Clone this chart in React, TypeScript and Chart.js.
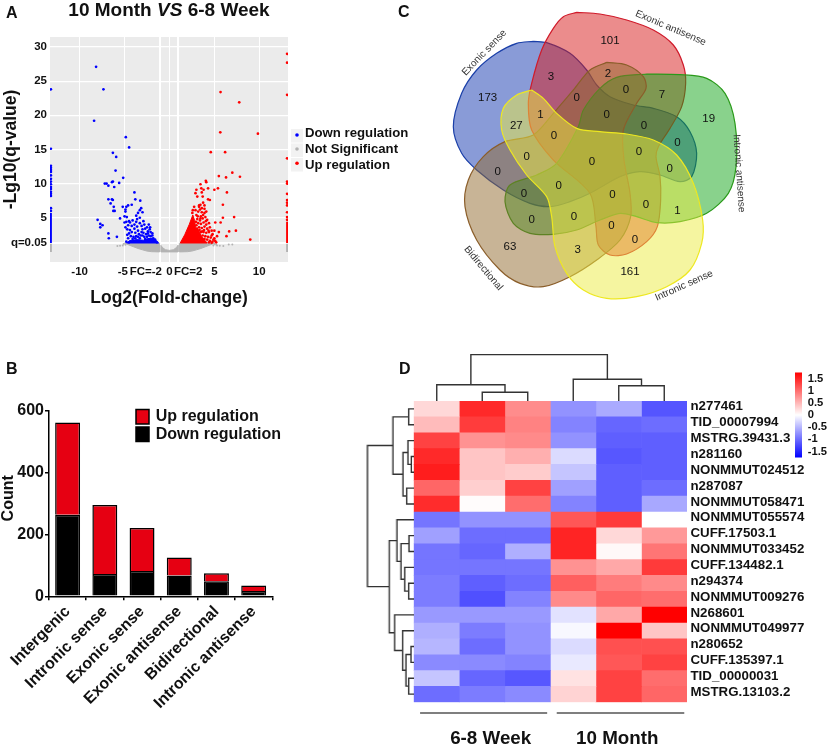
import React, { useEffect, useRef } from "react";
import { Chart, registerables } from "chart.js";
Chart.register(...registerables);

const FONT = '"Liberation Sans", Arial, sans-serif';

// ---------- Panel A : volcano ----------
const volcanoXTicks = [-10, -5.2, -2.63, 0, 2.09, 5, 10];
const volcanoXLabels = ["-10", "-5", "FC=-2", "0", "FC=2", "5", "10"];
const volcanoXGrid = [-10, -5, -1, 0, 1, 5, 10];
const volcanoYTicks = [1.3, 5, 10, 15, 20, 25, 30];
const volcanoYLabels = ["q=0.05", "5", "10", "15", "20", "25", "30"];
const downOutliers = [
  [-8.17, 27.1], [-7.35, 23.8], [-8.39, 19.2], [-4.86, 16.8], [-4.49, 15.3], [-6.3, 14.5], [-5.93, 13.9], [-6.0, 11.9],
  [-5.15, 10.85], [-6.3, 10.3], [-6.4, 10.2], [-5.6, 10.1], [-7.2, 10], [-7.0, 10], [-6.8, 9.7], [-6.15, 9.5], [-3.9, 8.7],
  [-3.8, 7.7], [-6.8, 7.7], [-6.4, 7.7], [-6.3, 7.6], [-4.2, 6.9], [-4.6, 6.8], [-3.25, 7.5], [-6.55, 7.1], [-5.2, 6.6],
  [-4.8, 6.6], [-6.2, 6.6], [-6.25, 6], [-6.1, 6], [-4.9, 6.2], [-4.9, 5.9], [-3.15, 6.4], [-3.3, 6.1], [-3.5, 5.7],
  [-3.7, 5.3], [-3.0, 5.8], [-8, 4.7], [-7.7, 4.1], [-7.45, 3.9], [-7.7, 3.6], [-5.5, 4.9], [-5.0, 5.2], [-4.75, 5.1],
  [-5, 4.3], [-4.5, 4.5], [-6.8, 2.7], [-6.75, 2.0], [-5.85, 2.2],
];
const downCluster = [
  [-4.8, 4.4], [-4.6, 3.9], [-4.7, 3.3], [-4.9, 3.6], [-4.4, 4.3], [-4.2, 3.8], [-4.4, 3.2], [-4.1, 4.6], [-3.9, 4.0], [-3.7, 4.4],
  [-3.9, 3.4], [-3.6, 3.7], [-4.2, 2.9], [-4.5, 2.7], [-4.7, 2.5], [-3.8, 2.8], [-3.5, 3.1], [-3.3, 4.2], [-3.1, 3.8], [-3.4, 2.6],
  [-3.0, 3.3], [-2.8, 4.0], [-2.7, 3.4], [-2.9, 2.8], [-3.2, 2.4], [-2.5, 3.6], [-2.4, 3.0], [-2.6, 2.6], [-2.2, 3.3], [-2.1, 2.9],
  [-2.3, 2.4], [-2.3, 4.0], [-3.6, 4.8], [-3.3, 5.0], [-2.9, 4.5], [-4.3, 2.3], [-4.0, 2.2], [-3.7, 2.3], [-3.5, 2.2], [-3.0, 2.4],
  [-2.8, 2.2], [-2.5, 2.2], [-2.1, 2.3], [-1.9, 2.4], [-1.8, 2.0], [-4.6, 2.0], [-4.1, 1.9], [-3.3, 2.0], [-2.7, 1.9], [-1.6, 1.8],
  [-1.5, 1.5], [-1.4, 1.4], [-4.8, 1.5], [-4.5, 1.4], [-2.0, 1.8], [-2.4, 2.7], [-3.1, 2.9], [-3.8, 2.0], [-1.9, 2.7], [-2.15, 3.6],
];
const downDensePolygon = [
  [-4.75, 1.3], [-4.45, 1.65], [-3.6, 1.8], [-2.9, 1.7], [-2.4, 1.95], [-1.9, 2.0], [-1.55, 1.7], [-1.2, 1.3], [-4.75, 1.3],
];
const downEdgeDots = [23.8, 15.1, 12.6, 12.3, 12, 11.7, 11.2, 10.7, 10.3, 9.9, 9.5, 9.2, 8.8, 8.5, 8.2, 6.4, 6.0];
const downEdgeSpan = [1.3, 5.7];
const edgeLeftX = -13.2;
const edgeRightX = 13.1;
const upEdgeDots = [29, 27.7, 23, 13.7, 10.3, 10, 8.5, 7.6, 7.2, 6.8, 5.8, 5.1, 4.7];
const upEdgeSpan = [1.3, 4.4];
const greyEdgeSpan = [0, 1.2];
const upOutliers = [
  [5.69, 23.4], [7.77, 21.9], [5.66, 17.5], [9.85, 17.3], [4.6, 14.6], [6.2, 14.6], [7.0, 11.6], [5.5, 11.1], [6.3, 10.9], [7.85, 11],
  [4.05, 10.4], [4.1, 10.2], [3.45, 9.9], [3.0, 9.1], [3.55, 9.3], [2.9, 8.6], [3.6, 8.7], [3.8, 9.1], [4.3, 9.3], [5.0, 9.1],
  [5.4, 9.3], [6.4, 8.7], [3.1, 8.1], [3.7, 8.1], [4.3, 7.7], [4.5, 7.6], [3.75, 7.2], [5.95, 6.9], [3.45, 6.9], [3.9, 6.8],
  [2.75, 6.6], [3.3, 6.6], [5.95, 5.0], [7.2, 5.1], [6.65, 3.0], [7.4, 3.1], [6.35, 2.3], [9.0, 1.8], [5.7, 4.3], [5.1, 4.3],
  [5.0, 3.1], [5.5, 2.9], [4.8, 2.6], [5.3, 2.3],
];
const upCluster = [
  [3.0, 5.4], [3.2, 5.9], [3.4, 6.2], [3.6, 5.8], [3.9, 5.7], [4.1, 5.9], [3.5, 5.2], [3.1, 4.8], [3.4, 4.6], [3.7, 4.9],
  [4.0, 5.1], [4.2, 4.7], [3.2, 4.2], [3.5, 4.1], [3.8, 4.3], [4.1, 4.0], [4.4, 4.2], [3.0, 3.9], [3.3, 3.6], [3.6, 3.5],
  [3.9, 3.7], [4.2, 3.4], [4.5, 3.6], [4.7, 3.1], [3.2, 3.1], [3.5, 2.9], [3.8, 2.9], [4.1, 2.8], [4.4, 2.9], [4.7, 2.4],
  [5.0, 2.0], [3.7, 2.4], [4.0, 2.3], [4.3, 2.2], [4.6, 2.1], [4.9, 1.8], [5.1, 1.6], [3.9, 1.9], [4.2, 1.8], [4.5, 1.6],
  [4.8, 1.5], [5.2, 1.4], [4.4, 1.4], [4.7, 1.35], [2.9, 6.1], [3.3, 6.8], [3.9, 6.3], [2.6, 6.1], [2.55, 5.7], [3.6, 6.4],
  [2.95, 4.4], [3.15, 5.2], [3.75, 5.4], [4.05, 4.5], [3.35, 3.2], [4.35, 3.1], [3.65, 3.0], [3.05, 3.4], [3.85, 3.2], [3.45, 4.9],
];
const upDensePolygon = [
  [1.2, 1.3], [1.7, 2.5], [2.2, 4.0], [2.6, 5.4], [2.8, 4.6], [2.9, 3.6], [3.3, 3.0], [3.6, 2.2], [4.2, 1.3], [1.2, 1.3],
];
const greyPolygonLeft = [
  [-5.0, 1.27], [-4.5, 1.0], [-4.0, 0.75], [-3.5, 0.5], [-3.0, 0.3], [-2.5, 0.12], [-2.0, 0.03], [-1.1, 0], [-1.1, 1.27], [-5.0, 1.27],
];
const greyPolygonRight = [
  [5.0, 1.27], [4.5, 1.0], [4.0, 0.75], [3.5, 0.5], [3.0, 0.3], [2.5, 0.12], [2.0, 0.03], [1.1, 0], [1.1, 1.27], [5.0, 1.27],
];
const greyPolygonCentre = [
  [-0.95, 0], [-0.95, 0.95], [-0.75, 0.6], [-0.45, 0.32], [0, 0.22], [0.45, 0.32], [0.75, 0.6], [0.95, 0.95], [0.95, 0], [-0.95, 0],
];
const greyPoints = [
  [-5.8, 0.85], [-5.5, 0.9], [-5.2, 0.95], [-4.9, 1.05], [-5.1, 1.15], [5.2, 1.1], [5.6, 0.9], [6.0, 0.85], [6.6, 1.1], [5.3, 0.95],
  [4.9, 0.95], [5.0, 1.15], [7.0, 1.1],
];

// ---------- Panel B : stacked bars ----------
const barCategories = ["Intergenic", "Intronic sense", "Exonic sense", "Exonic antisense", "Bidirectional", "Intronic antisense"];
const downCounts = [264, 72, 82, 67, 49, 17];
const upCounts = [299, 224, 139, 59, 26, 18];

// ---------- Panel C : five-set Venn ----------
const petalNames = ["Exonic sense", "Exonic antisense", "Intronic antisense", "Bidirectional", "Intronic sense"];
const petalFills = ["rgba(19,55,175,0.5)", "rgba(215,25,25,0.5)", "rgba(19,165,25,0.5)", "rgba(145,105,45,0.5)", "rgba(235,235,65,0.5)"];
const petalStrokes = ["#1A3FA8", "#D01A2A", "#2A9A1A", "#8B5E2A", "#EEE820"];
const bluePetal = [
  [340, 124], [380, 128], [450, 160], [500, 210], [530, 255], [570, 290], [640, 315], [700, 325], [770, 350], [810, 395], [830, 460],
  [815, 530], [780, 545], [720, 525], [660, 515], [600, 530], [510, 580], [450, 605], [390, 620], [330, 610], [250, 570], [170, 510],
  [125, 460], [100, 380], [125, 280], [170, 210], [230, 160], [290, 130], [340, 124],
];
const redPetal = [
  [470, 37], [540, 42], [620, 60], [700, 90], [760, 135], [790, 195], [797, 250], [785, 320], [750, 385], [715, 440], [708, 470],
  [720, 530], [722, 600], [712, 680], [680, 725], [620, 762], [570, 765], [535, 735], [528, 680], [510, 580], [400, 480], [335, 390],
  [325, 310], [335, 250], [365, 150], [400, 85], [430, 50], [470, 37],
];
const greenPetal = [
  [680, 222], [780, 224], [860, 235], [915, 280], [945, 370], [948, 500], [925, 580], [860, 640], [780, 665], [710, 668], [650, 650],
  [600, 640], [540, 660], [470, 690], [400, 703], [330, 700], [280, 670], [255, 605], [270, 555], [350, 525], [410, 490], [475, 380],
  [490, 330], [540, 265], [590, 232], [680, 222],
];
const brownPetal = [
  [560, 187], [620, 195], [670, 230], [678, 265], [650, 310], [610, 390], [612, 480], [630, 580], [632, 650], [600, 720], [530, 780],
  [450, 830], [370, 860], [300, 850], [240, 810], [170, 720], [135, 620], [145, 540], [190, 470], [255, 425], [340, 405], [400, 340],
  [460, 270], [510, 210], [560, 187],
];
const yellowPetal = [
  [335, 270], [370, 295], [410, 340], [470, 385], [540, 395], [620, 402], [700, 420], [770, 465], [820, 550], [848, 660], [845, 730],
  [810, 810], [740, 860], [650, 890], [560, 895], [490, 870], [440, 820], [405, 740], [395, 650], [380, 590], [320, 525], [270, 450],
  [245, 390], [250, 325], [290, 285], [335, 270],
];
const vennCounts = ["101", "3", "2", "173", "0", "0", "7", "19", "27", "1", "0", "0", "0", "0", "0", "0", "0", "0", "0", "0", "0", "0", "0", "1", "0", "0", "0", "0", "63", "3", "161"];
const vennCountX = [570, 393, 564, 203, 470, 618, 726, 866, 289, 361, 560, 672, 402, 772, 320, 516, 657, 233, 749, 416, 312, 577, 678, 772, 335, 462, 574, 645, 270, 473, 630];
const vennCountY = [122, 230, 220, 292, 293, 270, 284, 357, 376, 343, 343, 376, 408, 428, 470, 484, 456, 514, 507, 558, 581, 583, 614, 632, 659, 651, 678, 719, 740, 750, 814];
const petalLabelX = [193, 752, 957, 190, 792];
const petalLabelY = [158, 84, 520, 805, 857];
const petalLabelAngle = [-46, 23, 86, 50, -24];

// ---------- Panel D : heat map ----------
const heatRows = [
  "n277461", "TID_00007994", "MSTRG.39431.3", "n281160", "NONMMUT024512", "n287087", "NONMMUT058471", "NONMMUT055574", "CUFF.17503.1",
  "NONMMUT033452", "CUFF.134482.1", "n294374", "NONMMUT009276", "N268601", "NONMMUT049977", "n280652", "CUFF.135397.1", "TID_00000031", "MSTRG.13103.2",
];
const heatValues = [
  [0.27, 1.47, 0.79, -0.75, -0.58, -1.17],
  [0.47, 1.34, 0.86, -0.85, -1.05, -1.0],
  [1.3, 0.75, 0.8, -0.75, -1.1, -1.1],
  [1.47, 0.4, 0.55, -0.25, -1.15, -1.1],
  [1.55, 0.4, 0.35, -0.4, -1.1, -1.1],
  [1.05, 0.33, 1.3, -0.65, -1.1, -1.0],
  [1.45, 0.02, 1.0, -0.85, -1.1, -0.6],
  [-0.95, -0.75, -0.75, 1.15, 1.35, 0.0],
  [-0.65, -1.0, -1.0, 1.5, 0.27, 0.7],
  [-0.95, -1.05, -0.55, 1.5, 0.05, 0.95],
  [-0.95, -0.95, -0.95, 0.75, 0.6, 1.35],
  [-0.9, -1.1, -1.0, 1.1, 0.9, 0.8],
  [-0.9, -1.2, -0.85, 0.8, 1.05, 1.0],
  [-0.7, -0.7, -0.7, -0.2, 0.6, 1.75],
  [-0.55, -0.9, -0.75, -0.05, 1.75, 0.4],
  [-0.5, -1.0, -0.75, -0.25, 1.2, 1.2],
  [-0.8, -0.8, -0.85, -0.15, 1.15, 1.3],
  [-0.4, -1.05, -1.15, 0.2, 1.3, 1.0],
  [-1.0, -0.9, -0.8, 0.3, 1.3, 1.05],
];
const heatGroupTicks = [1.69, 4.47];
const heatGroupLabels = ["6-8 Week", "10 Month"];
const heatGroupSpans = [[0.14, 2.93], [3.14, 5.94]];
const colorBarTicks = [1.5, 1, 0.5, 0, -0.5, -1, -1.5];
const colorLimit = 1.75;
// merges: [child a, child b, height]; ids beyond the leaves are earlier merges in order
const topMerges = [[1, 2, 0.19], [0, 6, 0.35], [4, 5, 0.33], [3, 8, 0.47], [7, 9, 1]];
const leftMerges = [
  [0, 1, 0.115], [3, 4, 0.058], [2, 20, 0.13], [5, 6, 0.158], [21, 22, 0.237], [19, 23, 0.453],
  [8, 9, 0.108], [11, 12, 0.115], [10, 26, 0.2], [25, 27, 0.28], [7, 28, 0.367],
  [15, 16, 0.065], [17, 18, 0.115], [30, 31, 0.173], [14, 32, 0.245], [13, 33, 0.417], [29, 34, 0.532], [24, 35, 1],
];

const toXY = (pairs: number[][]) => pairs.map(([x, y]) => ({ x, y }));

function heatColor(v: number) {
  const t = Math.min(Math.abs(v) / colorLimit, 1);
  const c = Math.round(255 * (1 - t));
  return v >= 0 ? `rgb(255,${c},${c})` : `rgb(${c},${c},255)`;
}

function mergeSegments(merges: number[][], leaves: number) {
  const pos: number[] = [];
  const hgt: number[] = [];
  for (let i = 0; i < leaves; i++) {
    pos.push(i + 0.5);
    hgt.push(0);
  }
  return merges.map(([a, b, h]) => {
    const seg = [[pos[a], hgt[a]], [pos[a], h], [pos[b], h], [pos[b], hgt[b]]];
    pos.push((pos[a] + pos[b]) / 2);
    hgt.push(h);
    return seg;
  });
}

function text(ctx: any, s: string, x: number, y: number, font: string, color: string, angle = 0, align = "center") {
  ctx.save();
  ctx.translate(x, y);
  ctx.rotate((angle * Math.PI) / 180);
  ctx.font = font;
  ctx.fillStyle = color;
  ctx.textAlign = align;
  ctx.textBaseline = "middle";
  ctx.fillText(s, 0, 0);
  ctx.restore();
}

const base = { responsive: false, animation: false, events: [] as string[], plugins: { legend: { display: false }, tooltip: { enabled: false } } };

function fixedSize(w: number) {
  return (s: any) => { s.width = w; };
}
function fixedHeight(h: number) {
  return (s: any) => { s.height = h; };
}

function volcanoConfig() {
  const dots = (data: number[][], color: string, r = 1.35) => ({ type: "scatter", data: toXY(data), backgroundColor: color, borderWidth: 0, pointRadius: r, showLine: false });
  const poly = (data: number[][], color: string) => ({ type: "scatter", data: toXY(data), showLine: true, fill: "shape", backgroundColor: color, borderColor: color, borderWidth: 1, pointRadius: 0, tension: 0 });
  const span = (x: number, s: number[], color: string) => ({ type: "scatter", data: [{ x, y: s[0] }, { x, y: s[1] }], showLine: true, borderColor: color, borderWidth: 2, pointRadius: 0 });
  const legendRows = [["Down regulation", "#0000FF", 135, 133.5], ["Not Significant", "#B3B3B3", 149, 149.5], ["Up regulation", "#FF0000", 163.3, 165]];
  return {
    type: "scatter",
    data: {
      datasets: [
        dots(upOutliers, "#FF0000"), dots(upCluster, "#FF0000"), poly(upDensePolygon, "#FF0000"),
        dots(downOutliers, "#0000FF"), dots(downCluster, "#0000FF"), poly(downDensePolygon, "#0000FF"),
        dots(downEdgeDots.map((y) => [edgeLeftX, y]), "#0000FF"), span(edgeLeftX, downEdgeSpan, "#0000FF"),
        dots(upEdgeDots.map((y) => [edgeRightX, y]), "#FF0000"), span(edgeRightX, upEdgeSpan, "#FF0000"),
        dots(greyPoints, "#B3B3B3", 1), poly(greyPolygonLeft, "#B3B3B3"), poly(greyPolygonRight, "#B3B3B3"), poly(greyPolygonCentre, "#B3B3B3"),
        span(edgeLeftX, greyEdgeSpan, "#B3B3B3"), span(edgeRightX, greyEdgeSpan, "#B3B3B3"),
      ],
    },
    options: {
      ...base,
      layout: { autoPadding: false, padding: { top: 37, right: 132, left: 0, bottom: 0 } },
      scales: {
        x: {
          type: "linear", min: -13.3, max: 13.2,
          afterFit: fixedHeight(58),
          afterBuildTicks: (s: any) => { s.ticks = [...volcanoXGrid, ...volcanoXTicks].filter((v, i, a) => a.indexOf(v) === i).map((value) => ({ value })); },
          ticks: {
            autoSkip: false, maxRotation: 0, minRotation: 0, padding: 3, color: "#111",
            font: { family: FONT, size: 11.5, weight: "bold" },
            callback: (v: number) => { const i = volcanoXTicks.indexOf(v); return i >= 0 ? volcanoXLabels[i] : ""; },
          },
          grid: {
            drawTicks: false,
            color: (c: any) => (volcanoXGrid.includes(c.tick.value) ? "#FFFFFF" : "rgba(0,0,0,0)"),
            lineWidth: (c: any) => (Math.abs(c.tick.value) === 1 ? 2 : 1),
          },
          border: { display: false },
          title: { display: true, text: "Log2(Fold-change)", color: "#111", font: { family: FONT, size: 17.5, weight: "bold" }, padding: { top: 0, bottom: 11 } },
        },
        y: {
          type: "linear", min: -1.48, max: 31.46,
          afterFit: fixedSize(50),
          afterBuildTicks: (s: any) => { s.ticks = volcanoYTicks.map((value) => ({ value })); },
          ticks: {
            autoSkip: false, padding: 3, color: "#111",
            font: { family: FONT, size: 11.5, weight: "bold" },
            callback: (v: number) => volcanoYLabels[volcanoYTicks.indexOf(v)],
          },
          grid: { drawTicks: false, color: "#FFFFFF", lineWidth: (c: any) => (c.tick.value === 1.3 ? 2 : 1.2) },
          border: { display: false },
          title: { display: true, text: "-Lg10(q-value)", color: "#111", font: { family: FONT, size: 17.5, weight: "bold" }, padding: { top: 1, bottom: 0 } },
        },
      },
    },
    plugins: [
      {
        id: "panelBg",
        beforeDraw(c: any) {
          const a = c.chartArea;
          c.ctx.fillStyle = "#EBEBEB";
          c.ctx.fillRect(a.left, a.top, a.right - a.left, a.bottom - a.top);
        },
      },
      {
        id: "volcanoLegend",
        afterDraw(c: any) {
          const ctx = c.ctx;
          legendRows.forEach(([label, color, dotY, textY]: any, i) => {
            ctx.fillStyle = "#F2F2F2";
            ctx.fillRect(291, 129 + i * 14.5, 12, 13.5);
            ctx.fillStyle = color;
            ctx.beginPath();
            ctx.arc(297, dotY, 1.8, 0, Math.PI * 2);
            ctx.fill();
            text(ctx, label, 305, textY, `bold 13.2px ${FONT}`, "#111", 0, "left");
          });
        },
      },
    ],
  };
}

function barConfig() {
  return {
    type: "bar",
    data: {
      labels: barCategories,
      datasets: [
        { label: "Down regulation", data: downCounts, backgroundColor: "#000000", borderColor: "#000000", borderWidth: 1.5, barPercentage: 0.67, categoryPercentage: 1 },
        { label: "Up regulation", data: upCounts, backgroundColor: "#E60012", borderColor: "#000000", borderWidth: 1.5, barPercentage: 0.67, categoryPercentage: 1 },
      ],
    },
    options: {
      ...base,
      layout: { autoPadding: false, padding: { top: 61, right: 57.7, left: 0, bottom: 0 } },
      scales: {
        x: {
          stacked: true,
          afterFit: fixedHeight(150.7),
          ticks: { autoSkip: false, minRotation: 45, maxRotation: 45, padding: 2, color: "#111", font: { family: FONT, size: 16, weight: "bold" } },
          grid: { display: true, drawOnChartArea: false, drawTicks: true, tickLength: 4, color: "#000", lineWidth: 1.5 },
          border: { display: true, color: "#000", width: 1.5 },
        },
        y: {
          stacked: true, min: 0, max: 600,
          afterFit: fixedSize(49),
          ticks: { stepSize: 200, padding: 1, color: "#111", font: { family: FONT, size: 16, weight: "bold" } },
          grid: { display: true, drawOnChartArea: false, drawTicks: true, tickLength: 4, color: "#000", lineWidth: 1.5 },
          border: { display: true, color: "#000", width: 1.5 },
        },
      },
    },
    plugins: [
      {
        id: "barLegend",
        afterDraw(c: any) {
          const ctx = c.ctx;
          text(ctx, "Count", 9, 148.3, `bold 16px ${FONT}`, "#111", -90);
          [[1, 59.5], [0, 77]].forEach(([ds, y]) => {
            const set = c.data.datasets[ds];
            ctx.fillStyle = set.backgroundColor;
            ctx.strokeStyle = "#000";
            ctx.lineWidth = 1.5;
            ctx.fillRect(136, y, 13, 14.5);
            ctx.strokeRect(136, y, 13, 14.5);
            text(ctx, set.label, 155.7, y + 7.2, `bold 16px ${FONT}`, "#111", 0, "left");
          });
        },
      },
    ],
  };
}

function vennConfig() {
  const petals = [bluePetal, redPetal, greenPetal, brownPetal, yellowPetal];
  const order = [4, 3, 2, 1, 0]; // the library paints the first dataset last-on-top
  return {
    type: "scatter",
    data: {
      datasets: order.map((i) => ({
        label: petalNames[i], data: toXY(petals[i]), showLine: true, fill: "shape", tension: 0.3,
        backgroundColor: petalFills[i], borderColor: petalStrokes[i], borderWidth: 1.2, pointRadius: 0,
      })),
    },
    options: {
      ...base,
      layout: { autoPadding: false, padding: 0 },
      scales: {
        x: { type: "linear", min: 0, max: 1227, display: false },
        y: { type: "linear", min: 0, max: 960, reverse: true, display: false },
      },
    },
    plugins: [
      {
        id: "vennText",
        afterDatasetsDraw(c: any) {
          const { x, y } = c.scales;
          vennCounts.forEach((t, i) => {
            text(c.ctx, t, x.getPixelForValue(vennCountX[i]), y.getPixelForValue(vennCountY[i]), `11.5px ${FONT}`, "#111");
          });
          petalNames.forEach((t, i) => {
            text(c.ctx, t, x.getPixelForValue(petalLabelX[i]), y.getPixelForValue(petalLabelY[i]), `10px ${FONT}`, "#333", petalLabelAngle[i]);
          });
        },
      },
    ],
  };
}

function heatConfig() {
  return {
    type: "bar",
    data: {
      labels: heatRows,
      datasets: [0, 1, 2, 3, 4, 5].map((col) => ({
        label: `sample ${col + 1}`,
        data: heatRows.map(() => 1),
        backgroundColor: heatValues.map((r) => heatColor(r[col])),
        borderWidth: 0, barPercentage: 1, categoryPercentage: 1,
      })),
    },
    options: {
      ...base,
      indexAxis: "y",
      layout: { autoPadding: false, padding: { top: 51, left: 73.7, right: 0, bottom: 0 } },
      scales: {
        x: {
          type: "linear", stacked: true, min: 0, max: 6,
          afterFit: fixedHeight(44.7),
          afterBuildTicks: (s: any) => { s.ticks = heatGroupTicks.map((value) => ({ value })); },
          ticks: {
            autoSkip: false, maxRotation: 0, padding: 25, color: "#111",
            font: { family: FONT, size: 18.8, weight: "bold" },
            callback: (v: number) => heatGroupLabels[heatGroupTicks.indexOf(v)],
          },
          grid: { display: false, drawTicks: false },
          border: { display: false },
        },
        y: {
          position: "right", stacked: true,
          afterFit: fixedSize(142),
          ticks: { autoSkip: false, padding: 3.5, labelOffset: -2.2, color: "#111", font: { family: FONT, size: 13.3, weight: "bold" } },
          grid: { display: false, drawTicks: false },
          border: { display: false },
        },
      },
    },
    plugins: [
      {
        id: "groupRules",
        afterDraw(c: any) {
          const ctx = c.ctx;
          const x = c.scales.x;
          ctx.strokeStyle = "#555";
          ctx.lineWidth = 1.3;
          heatGroupSpans.forEach(([a, b]) => {
            ctx.beginPath();
            ctx.moveTo(x.getPixelForValue(a), c.chartArea.bottom + 10.7);
            ctx.lineTo(x.getPixelForValue(b), c.chartArea.bottom + 10.7);
            ctx.stroke();
          });
        },
      },
    ],
  };
}

function dendroConfig(horizontal: boolean) {
  const segs = horizontal ? mergeSegments(topMerges, 6) : mergeSegments(leftMerges, 19);
  return {
    type: "scatter",
    data: {
      datasets: segs.map((s) => ({
        data: horizontal ? s.map(([p, h]) => ({ x: p, y: h })) : s.map(([p, h]) => ({ x: h, y: p })),
        showLine: true, tension: 0, borderColor: "#333", borderWidth: 1.4, pointRadius: 0, clip: false,
      })),
    },
    options: {
      ...base,
      layout: { autoPadding: false, padding: 0 },
      scales: horizontal
        ? { x: { type: "linear", min: 0, max: 6, display: false }, y: { type: "linear", min: 0, max: 1.1, display: false } }
        : { x: { type: "linear", min: 0, max: 1.59, reverse: true, display: false }, y: { type: "linear", min: 0, max: 19, reverse: true, display: false } },
    },
  };
}

function colorBarConfig() {
  return {
    type: "bar",
    data: {
      labels: ["scale"],
      datasets: [
        {
          data: [[-colorLimit, colorLimit]],
          barPercentage: 1, categoryPercentage: 1, borderWidth: 0,
          backgroundColor: (c: any) => {
            const a = c.chart.chartArea;
            if (!a) return "#fff";
            const g = c.chart.ctx.createLinearGradient(0, a.top, 0, a.bottom);
            g.addColorStop(0, heatColor(colorLimit));
            g.addColorStop(0.5, heatColor(0));
            g.addColorStop(1, heatColor(-colorLimit));
            return g;
          },
        },
      ],
    },
    options: {
      ...base,
      layout: { autoPadding: false, padding: { left: 5, top: 7.7, bottom: 10, right: 0 } },
      scales: {
        x: { display: false },
        y: {
          position: "right", min: -colorLimit, max: colorLimit,
          afterFit: fixedSize(27),
          afterBuildTicks: (s: any) => { s.ticks = colorBarTicks.map((value) => ({ value })); },
          ticks: { autoSkip: false, padding: 5.7, color: "#111", font: { family: FONT, size: 11.2, weight: "bold" }, callback: (v: number) => String(v) },
          grid: { display: false, drawTicks: false },
          border: { display: false },
        },
      },
    },
  };
}

function Panel({ x, y, w, h, make }: { x: number; y: number; w: number; h: number; make: () => any }) {
  const ref = useRef<HTMLCanvasElement>(null);
  useEffect(() => {
    const chart = new Chart(ref.current as any, make());
    return () => chart.destroy();
  }, []);
  return <canvas ref={ref} width={w} height={h} style={{ position: "absolute", left: x, top: y, width: w, height: h, display: "block" }} />;
}

function Letter({ x, y, t }: { x: number; y: number; t: string }) {
  return <div style={{ position: "absolute", left: x, top: y, font: `bold 16px ${FONT}`, color: "#111", lineHeight: "18px" }}>{t}</div>;
}

export default function App() {
  return (
    <div style={{ position: "fixed", left: 0, top: 0, width: 829, height: 747, background: "#fff", overflow: "hidden" }}>
      <Panel x={0} y={0} w={420} h={320} make={volcanoConfig} />
      <Panel x={420} y={0} w={409} h={320} make={vennConfig} />
      <Panel x={0} y={350} w={330} h={397} make={barConfig} />
      <Panel x={340} y={350} w={489} h={397} make={heatConfig} />
      <Panel x={413.7} y={350} w={273.3} h={51} make={() => dendroConfig(true)} />
      <Panel x={340} y={401} w={73.7} h={301.3} make={() => dendroConfig(false)} />
      <Panel x={790} y={360} w={39} h={110} make={colorBarConfig} />
      <div style={{ position: "absolute", left: 0, width: 338, top: -1, textAlign: "center", font: `bold 19px ${FONT}`, lineHeight: "22px", color: "#111" }}>
        10 Month <i>VS</i> 6-8 Week
      </div>
      <Letter x={6} y={4} t="A" />
      <Letter x={6} y={360} t="B" />
      <Letter x={398} y={3} t="C" />
      <Letter x={399} y={360} t="D" />
    </div>
  );
}
